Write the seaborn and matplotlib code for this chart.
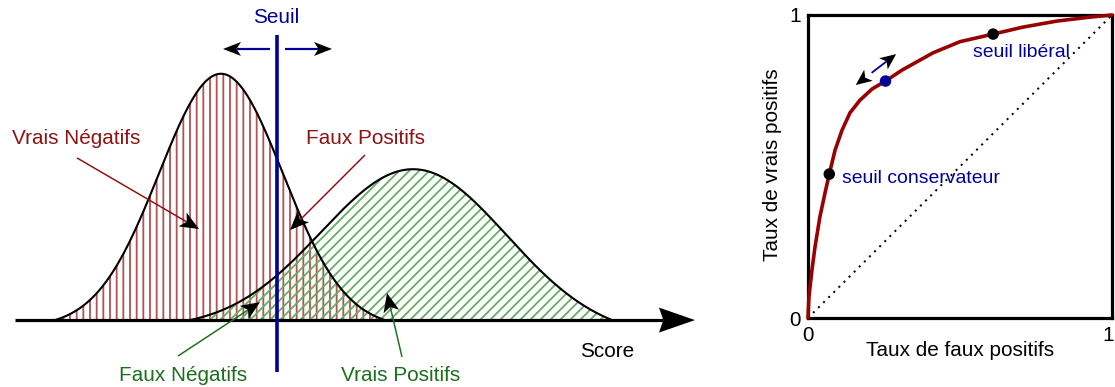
import numpy as np
import matplotlib
matplotlib.use("Agg")
import matplotlib.pyplot as plt
from matplotlib.transforms import ScaledTranslation
import seaborn as sns

# ---------------- data ----------------
# score distributions (score axis units; peak heights relative)
neg_mean, neg_sd, neg_peak = 2.21, 0.62, 1.0
pos_mean, pos_sd, pos_peak = 4.14, 0.93, 0.598
neg_range = (0.55, 3.85)
pos_range = (1.90, 6.12)
threshold = 2.77

# ROC curve
roc_fpr = [0.0, 0.003, 0.013, 0.023, 0.039, 0.056, 0.070, 0.089, 0.112, 0.138,
           0.171, 0.211, 0.255, 0.309, 0.352, 0.411, 0.5, 0.609, 0.707, 0.819,
           0.928, 1.0]
roc_tpr = [0.0, 0.069, 0.158, 0.234, 0.333, 0.413, 0.475, 0.554, 0.620, 0.677,
           0.719, 0.756, 0.782, 0.818, 0.842, 0.875, 0.912, 0.937, 0.960, 0.980,
           0.993, 1.0]
pt_names = ["seuil conservateur", "courant", "seuil libéral"]
pt_fpr = [0.070, 0.255, 0.609]
pt_tpr = [0.475, 0.782, 0.937]

# ---------------- style ----------------
DPI = 120
K = 72.0 / DPI  # pixels -> points


def P(px):
    return px * K


sns.set_theme(style="white")
plt.rcParams["font.family"] = ["Liberation Sans", "DejaVu Sans"]
plt.rcParams["hatch.linewidth"] = P(1.8)

RED = "#8b1414"
GREEN = "#1e6e1e"
BLUE = "#000099"
CURVE_RED = "#990000"
FS = P(20.8)
FS_SMALL = P(19.4)

fig = plt.figure(figsize=(1115 / DPI, 387 / DPI), dpi=DPI)


def head_arrow(ax, start, tip, color, lw_px, hl_px, hw_px, both=False, notch=0.25,
               zorder=6):
    """Coloured shaft with black (stealth) arrow head(s)."""
    T = ax.transData
    s = T.transform(start)
    t = T.transform(tip)
    d = (t - s) / np.hypot(*(t - s))
    perp = np.array([-d[1], d[0]])

    def head(tipd, dd):
        base = tipd - dd * hl_px
        pts = np.array([tipd, base + perp * hw_px, base + dd * hl_px * notch,
                        base - perp * hw_px])
        pts = T.inverted().transform(pts)
        ax.fill(pts[:, 0], pts[:, 1], color="black", lw=0, zorder=zorder + 1,
                clip_on=False)
        return base

    b_end = head(t, d)
    b_start = head(s, -d) if both else s
    p0 = T.inverted().transform(b_start + (d * hl_px * notch if both else 0))
    p1 = T.inverted().transform(b_end + d * hl_px * notch)
    ax.plot([p0[0], p1[0]], [p0[1], p1[1]], color=color, lw=P(lw_px),
            solid_capstyle="butt", zorder=zorder, clip_on=False)


# ---------------- left panel ----------------
ax = fig.add_axes([0, 0, 700 / 1115, 1])
ax.set_xlim(0, 7.0)
ax.set_ylim(-0.272, 1.301)
ax.axis("off")


def bump(lo, hi, m, sd, peak):
    x = np.linspace(lo, hi, 500)
    g = np.exp(-0.5 * ((x - m) / sd) ** 2)
    g_end = np.exp(-0.5 * ((np.array([lo, hi]) - m) / sd) ** 2)
    base = np.interp(x, [lo, hi], g_end)
    return x, peak * (g - base) / (1 - base.max())


xn, neg = bump(*neg_range, neg_mean, neg_sd, neg_peak)
xp, pos = bump(*pos_range, pos_mean, pos_sd, pos_peak)

ax.fill_between(xn, 0, neg, facecolor="none", edgecolor="#b35252",
                hatch="|||", linewidth=0, zorder=1)
ax.fill_between(xp, 0, pos, facecolor="none", edgecolor="#62b062",
                hatch="////", linewidth=0, zorder=2)
sns.lineplot(x=xn, y=neg, ax=ax, color="black", lw=P(2.1), sort=False, zorder=3)
sns.lineplot(x=xp, y=pos, ax=ax, color="black", lw=P(2.1), sort=False, zorder=3)

# score axis with big arrow head
head_arrow(ax, (0.15, 0), (6.95, 0), "black", 3.2, 36, 12.5, notch=0.12, zorder=4)
ax.text(6.07, -0.126, "Score", ha="center", va="center", fontsize=FS, color="black")

# threshold
ax.plot([threshold, threshold], [-0.211, 1.159], color=BLUE, lw=P(3.6),
        solid_capstyle="butt", zorder=5)
ax.text(threshold - 0.01, 1.228, "Seuil", ha="center", va="center", fontsize=FS,
        color=BLUE)
head_arrow(ax, (2.70, 1.102), (2.23, 1.102), BLUE, 2.2, 18, 7)
head_arrow(ax, (2.85, 1.102), (3.32, 1.102), BLUE, 2.2, 18, 7)


def label_arrow(text, txy, start, tip, color):
    ax.text(txy[0], txy[1], text, ha="center", va="center", fontsize=FS, color=color)
    head_arrow(ax, start, tip, color, 1.5, 19, 8)


label_arrow("Vrais Négatifs", (0.76, 0.740), (0.77, 0.659), (1.99, 0.370), RED)
label_arrow("Faux Positifs", (3.66, 0.740), (3.65, 0.671), (2.90, 0.366), RED)
label_arrow("Faux Négatifs", (1.83, -0.224), (1.78, -0.146), (2.60, 0.073), GREEN)
label_arrow("Vrais Positifs", (4.01, -0.224), (4.02, -0.150), (3.87, 0.110), GREEN)

# ---------------- right panel (ROC) ----------------
ax2 = fig.add_axes([808 / 1115, 69 / 387, 304 / 1115, 303 / 387])
ax2.set_xlim(0, 1)
ax2.set_ylim(0, 1)
ax2.plot([0, 1], [0, 1], color="black", lw=P(2.0), linestyle=(0, (1, 2.6)), zorder=2)
sns.lineplot(x=roc_fpr, y=roc_tpr, ax=ax2, color=CURVE_RED, lw=P(3.6), sort=False,
             zorder=3, clip_on=False)
ax2.scatter(pt_fpr, pt_tpr, s=P(11.5) ** 2, c=["black", BLUE, "black"], zorder=5,
            edgecolors="none", clip_on=False)

head_arrow(ax2, (0.157, 0.769), (0.290, 0.871), BLUE, 1.8, 16, 7, both=True)
ax2.text(0.112, 0.462, pt_names[0], ha="left", va="center", fontsize=FS_SMALL,
         color=BLUE)
ax2.text(0.543, 0.875, pt_names[2], ha="left", va="center", fontsize=FS_SMALL,
         color=BLUE)

for s in ax2.spines.values():
    s.set_visible(True)
    s.set_linewidth(P(3.2))
    s.set_color("black")
ax2.set_xticks([0, 1])
ax2.set_yticks([0, 1])
ax2.set_xticklabels(["0", "1"])
ax2.set_yticklabels(["0", "1"])
ax2.tick_params(axis="both", length=0, labelsize=FS, colors="black")
ax2.tick_params(axis="x", pad=P(8))
ax2.tick_params(axis="y", pad=P(7))
ax2.grid(False)
lab1 = ax2.get_xticklabels()[1]
lab1.set_transform(lab1.get_transform() + ScaledTranslation(-4 / DPI, 0, fig.dpi_scale_trans))
ax2.set_xlabel("Taux de faux positifs", fontsize=FS, color="black")
ax2.set_ylabel("Taux de vrais positifs", fontsize=FS, color="black")
ax2.xaxis.set_label_coords(0.5, -0.106)
ax2.xaxis.label.set_verticalalignment("center")
ax2.yaxis.set_label_coords(-0.118, 0.505)
ax2.yaxis.label.set_verticalalignment("center")

fig.savefig("out.png", dpi=DPI, facecolor="white")
